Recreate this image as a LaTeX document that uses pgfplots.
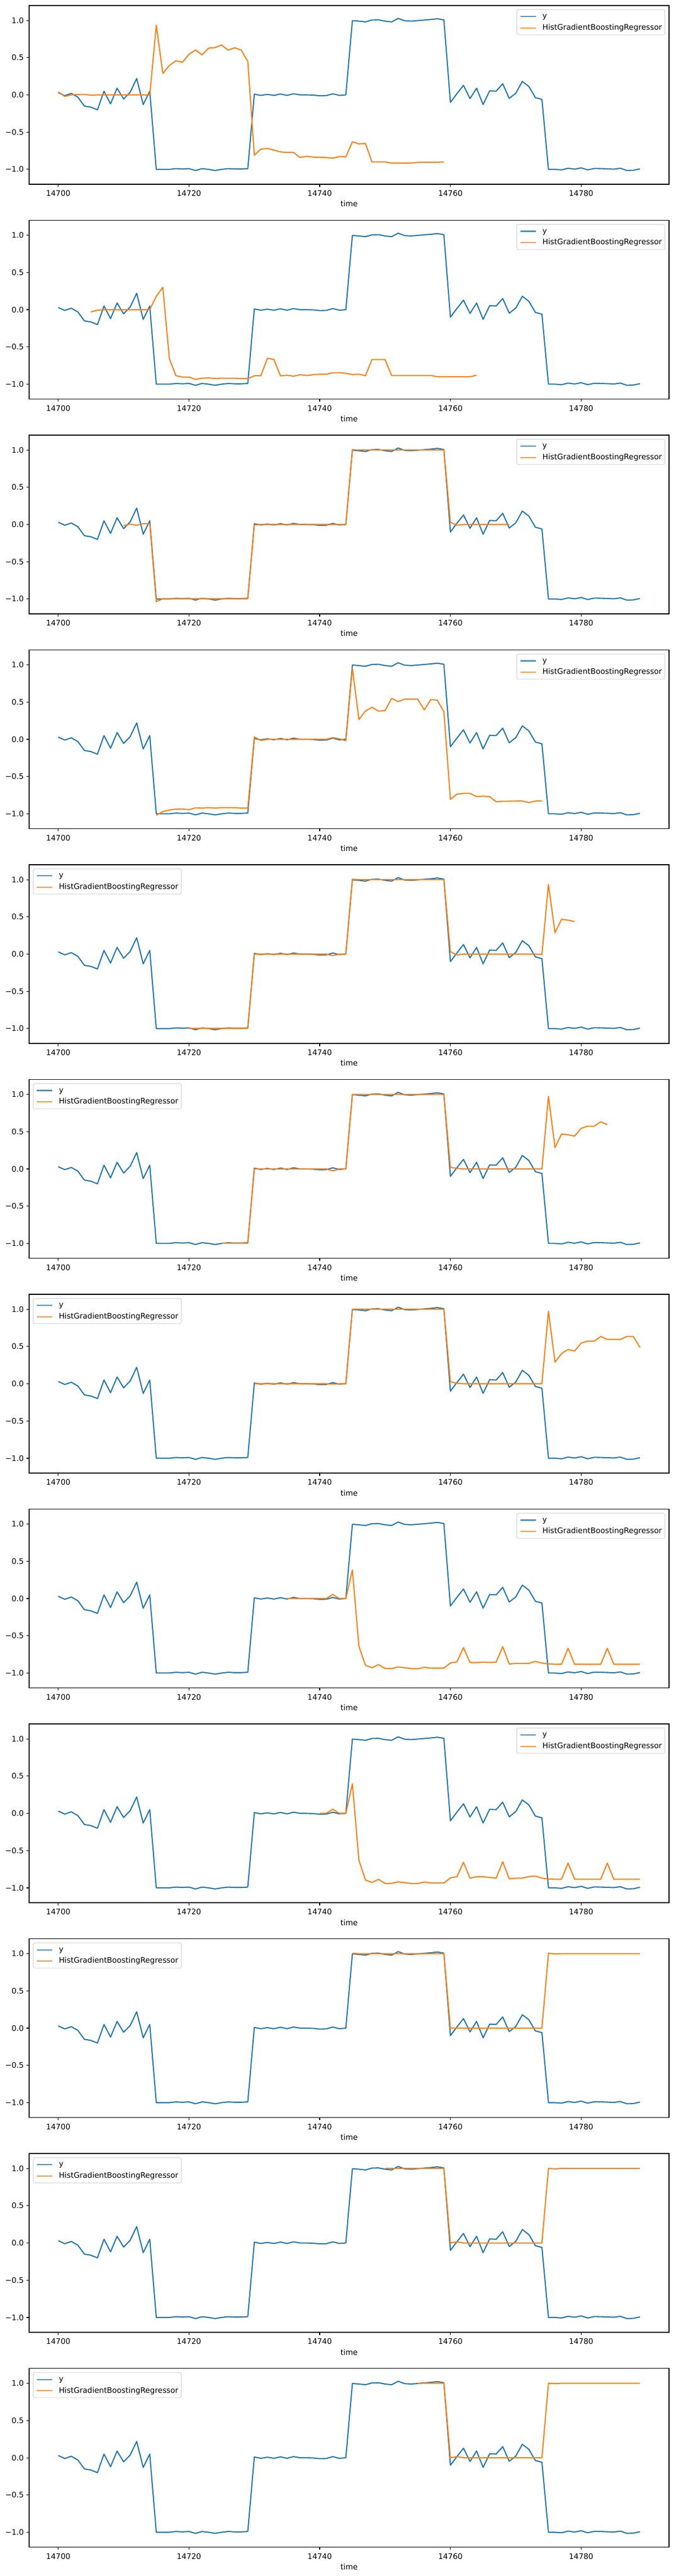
\documentclass[border=0pt]{standalone}
\usepackage{fontspec}
\setmainfont{DejaVu Sans}
\usepackage{pgfplots}
\usepackage{pgfplotstable}
\pgfplotsset{compat=1.18}
\definecolor{mblue}{HTML}{1F77B4}
\definecolor{morange}{HTML}{FF7F0E}

\pgfplotstableread[row sep=\\]{x y\\14700 0.03\\14701 -0.01\\14702 0.02\\14703 -0.03\\14704 -0.15\\14705 -0.165\\14706 -0.20\\14707 0.05\\14708 -0.12\\14709 0.09\\14710 -0.055\\14711 0.035\\14712 0.22\\14713 -0.13\\14714 0.05\\14715 -1.0\\14716 -1.0\\14717 -1.0\\14718 -0.99\\14719 -0.995\\14720 -0.99\\14721 -1.015\\14722 -0.99\\14723 -1.0\\14724 -1.015\\14725 -1.0\\14726 -0.99\\14727 -0.995\\14728 -0.995\\14729 -0.99\\14730 0.01\\14731 -0.007\\14732 0.007\\14733 -0.007\\14734 0.012\\14735 -0.007\\14736 0.015\\14737 0.0\\14738 0.0\\14739 -0.003\\14740 -0.012\\14741 -0.01\\14742 0.015\\14743 -0.007\\14744 0.0\\14745 0.997\\14746 0.99\\14747 0.98\\14748 1.005\\14749 1.007\\14750 0.99\\14751 0.98\\14752 1.027\\14753 0.995\\14754 0.99\\14755 0.997\\14756 1.005\\14757 1.012\\14758 1.022\\14759 1.007\\14760 -0.10\\14761 0.017\\14762 0.128\\14763 -0.05\\14764 0.09\\14765 -0.13\\14766 0.054\\14767 0.05\\14768 0.15\\14769 -0.047\\14770 0.022\\14771 0.18\\14772 0.113\\14773 -0.037\\14774 -0.06\\14775 -1.0\\14776 -1.0\\14777 -1.007\\14778 -0.985\\14779 -0.997\\14780 -0.98\\14781 -1.007\\14782 -0.988\\14783 -0.99\\14784 -0.993\\14785 -0.997\\14786 -0.985\\14787 -1.015\\14788 -1.012\\14789 -0.993\\}\ydata

\pgfplotstableread[row sep=\\]{x y\\14700 0.04\\14701 -0.02\\14702 0.0\\14703 0.005\\14704 0.007\\14705 -0.005\\14706 0.0\\14707 0.0\\14708 0.0\\14709 0.0\\14710 0.0\\14711 0.0\\14712 0.0\\14713 0.0\\14714 -0.005\\14715 0.936\\14716 0.288\\14717 0.394\\14718 0.458\\14719 0.438\\14720 0.544\\14721 0.603\\14722 0.537\\14723 0.628\\14724 0.635\\14725 0.67\\14726 0.60\\14727 0.633\\14728 0.60\\14729 0.45\\14730 -0.81\\14731 -0.727\\14732 -0.72\\14733 -0.74\\14734 -0.766\\14735 -0.773\\14736 -0.773\\14737 -0.84\\14738 -0.825\\14739 -0.835\\14740 -0.84\\14741 -0.84\\14742 -0.85\\14743 -0.828\\14744 -0.832\\14745 -0.63\\14746 -0.658\\14747 -0.653\\14748 -0.90\\14749 -0.90\\14750 -0.90\\14751 -0.916\\14752 -0.916\\14753 -0.916\\14754 -0.916\\14755 -0.906\\14756 -0.906\\14757 -0.906\\14758 -0.904\\14759 -0.90\\}\pa

\pgfplotstableread[row sep=\\]{x y\\14705 -0.03\\14706 -0.007\\14707 0.0\\14708 0.0\\14709 0.0\\14710 0.0\\14711 0.0\\14712 0.0\\14713 0.0\\14714 0.0\\14715 0.18\\14716 0.30\\14717 -0.657\\14718 -0.886\\14719 -0.905\\14720 -0.905\\14721 -0.935\\14722 -0.92\\14723 -0.915\\14724 -0.925\\14725 -0.92\\14726 -0.92\\14727 -0.92\\14728 -0.925\\14729 -0.925\\14730 -0.888\\14731 -0.886\\14732 -0.652\\14733 -0.669\\14734 -0.888\\14735 -0.88\\14736 -0.893\\14737 -0.873\\14738 -0.883\\14739 -0.873\\14740 -0.866\\14741 -0.866\\14742 -0.846\\14743 -0.846\\14744 -0.854\\14745 -0.871\\14746 -0.866\\14747 -0.886\\14748 -0.669\\14749 -0.669\\14750 -0.669\\14751 -0.883\\14752 -0.883\\14753 -0.883\\14754 -0.883\\14755 -0.883\\14756 -0.883\\14757 -0.883\\14758 -0.90\\14759 -0.90\\14760 -0.90\\14761 -0.90\\14762 -0.90\\14763 -0.90\\14764 -0.88\\}\pb

\pgfplotstableread[row sep=\\]{x y\\14710 -0.015\\14711 0.005\\14712 -0.01\\14713 0.012\\14714 0.012\\14715 -1.035\\14716 -0.997\\14717 -0.997\\14718 -0.997\\14719 -0.997\\14720 -0.997\\14721 -0.997\\14722 -0.997\\14723 -0.997\\14724 -0.997\\14725 -0.997\\14726 -0.997\\14727 -0.997\\14728 -0.997\\14729 -0.997\\14730 -0.005\\14731 0.0\\14732 0.0\\14733 0.0\\14734 0.0\\14735 0.0\\14736 0.0\\14737 0.0\\14738 0.0\\14739 0.0\\14740 0.0\\14741 0.0\\14742 0.0\\14743 0.0\\14744 0.0\\14745 1.005\\14746 1.0\\14747 1.0\\14748 1.0\\14749 1.0\\14750 1.0\\14751 1.0\\14752 1.0\\14753 1.0\\14754 1.0\\14755 1.0\\14756 1.0\\14757 1.0\\14758 1.0\\14759 1.0\\14760 0.03\\14761 -0.01\\14762 0.0\\14763 0.0\\14764 0.0\\14765 0.0\\14766 0.0\\14767 0.0\\14768 0.0\\14769 0.0\\}\pc

\pgfplotstableread[row sep=\\]{x y\\14715 -1.02\\14716 -0.97\\14717 -0.95\\14718 -0.937\\14719 -0.935\\14720 -0.945\\14721 -0.92\\14722 -0.922\\14723 -0.918\\14724 -0.922\\14725 -0.918\\14726 -0.918\\14727 -0.918\\14728 -0.922\\14729 -0.922\\14730 0.032\\14731 -0.015\\14732 0.0\\14733 0.0\\14734 0.0\\14735 0.0\\14736 0.0\\14737 0.0\\14738 0.0\\14739 0.0\\14740 0.0\\14741 0.0\\14742 0.022\\14743 0.007\\14744 -0.02\\14745 0.957\\14746 0.266\\14747 0.379\\14748 0.43\\14749 0.379\\14750 0.384\\14751 0.549\\14752 0.507\\14753 0.539\\14754 0.539\\14755 0.539\\14756 0.394\\14757 0.534\\14758 0.524\\14759 0.371\\14760 -0.807\\14761 -0.736\\14762 -0.726\\14763 -0.726\\14764 -0.77\\14765 -0.763\\14766 -0.77\\14767 -0.839\\14768 -0.831\\14769 -0.831\\14770 -0.829\\14771 -0.829\\14772 -0.849\\14773 -0.829\\14774 -0.829\\}\pd

\pgfplotstableread[row sep=\\]{x y\\14720 -0.997\\14721 -0.997\\14722 -0.997\\14723 -0.997\\14724 -0.997\\14725 -0.997\\14726 -0.997\\14727 -0.997\\14728 -0.997\\14729 -0.997\\14730 0.0\\14731 0.0\\14732 0.0\\14733 0.0\\14734 0.0\\14735 0.0\\14736 0.0\\14737 0.0\\14738 0.0\\14739 0.0\\14740 0.0\\14741 0.0\\14742 -0.02\\14743 0.0\\14744 0.0\\14745 1.005\\14746 1.0\\14747 1.0\\14748 1.0\\14749 1.0\\14750 1.0\\14751 1.0\\14752 1.0\\14753 1.0\\14754 1.0\\14755 1.0\\14756 1.0\\14757 1.0\\14758 1.0\\14759 1.0\\14760 0.032\\14761 -0.01\\14762 0.0\\14763 0.0\\14764 0.0\\14765 0.0\\14766 0.0\\14767 0.0\\14768 0.0\\14769 0.0\\14770 0.0\\14771 0.0\\14772 0.0\\14773 0.0\\14774 -0.007\\14775 0.936\\14776 0.286\\14777 0.468\\14778 0.456\\14779 0.438\\}\pe

\pgfplotstableread[row sep=\\]{x y\\14725 -0.997\\14726 -0.997\\14727 -0.997\\14728 -0.997\\14729 -0.997\\14730 0.0\\14731 0.0\\14732 0.0\\14733 0.0\\14734 0.0\\14735 0.0\\14736 0.0\\14737 0.0\\14738 0.0\\14739 0.0\\14740 0.0\\14741 0.0\\14742 -0.027\\14743 0.0\\14744 0.0\\14745 1.0\\14746 1.0\\14747 1.0\\14748 1.0\\14749 1.0\\14750 1.0\\14751 1.0\\14752 1.0\\14753 1.0\\14754 1.0\\14755 1.0\\14756 1.0\\14757 1.0\\14758 1.0\\14759 1.0\\14760 0.022\\14761 0.007\\14762 0.0\\14763 0.0\\14764 0.0\\14765 0.0\\14766 0.0\\14767 0.0\\14768 0.0\\14769 0.0\\14770 0.0\\14771 0.0\\14772 0.0\\14773 0.0\\14774 0.0\\14775 0.973\\14776 0.286\\14777 0.468\\14778 0.458\\14779 0.441\\14780 0.544\\14781 0.574\\14782 0.574\\14783 0.633\\14784 0.594\\}\pf

\pgfplotstableread[row sep=\\]{x y\\14730 0.0\\14731 0.0\\14732 0.0\\14733 0.0\\14734 0.0\\14735 0.0\\14736 0.0\\14737 0.0\\14738 0.0\\14739 0.0\\14740 0.0\\14741 0.0\\14742 -0.005\\14743 0.0\\14744 0.0\\14745 1.0\\14746 1.0\\14747 1.0\\14748 1.0\\14749 1.0\\14750 1.0\\14751 1.0\\14752 1.0\\14753 1.0\\14754 1.0\\14755 1.0\\14756 1.0\\14757 1.0\\14758 1.0\\14759 1.0\\14760 0.025\\14761 0.007\\14762 0.0\\14763 0.0\\14764 0.0\\14765 0.0\\14766 0.0\\14767 0.0\\14768 0.0\\14769 0.0\\14770 0.0\\14771 0.0\\14772 0.0\\14773 0.0\\14774 0.0\\14775 0.973\\14776 0.288\\14777 0.405\\14778 0.46\\14779 0.44\\14780 0.545\\14781 0.572\\14782 0.572\\14783 0.634\\14784 0.595\\14785 0.595\\14786 0.595\\14787 0.634\\14788 0.634\\14789 0.485\\}\pg

\pgfplotstableread[row sep=\\]{x y\\14735 0.0\\14736 0.0\\14737 0.0\\14738 0.0\\14739 0.0\\14740 0.0\\14741 0.0\\14742 0.055\\14743 0.0\\14744 0.0\\14745 0.383\\14746 -0.641\\14747 -0.897\\14748 -0.929\\14749 -0.887\\14750 -0.939\\14751 -0.939\\14752 -0.919\\14753 -0.929\\14754 -0.941\\14755 -0.941\\14756 -0.924\\14757 -0.934\\14758 -0.934\\14759 -0.934\\14760 -0.865\\14761 -0.85\\14762 -0.658\\14763 -0.86\\14764 -0.86\\14765 -0.853\\14766 -0.86\\14767 -0.853\\14768 -0.646\\14769 -0.88\\14770 -0.87\\14771 -0.87\\14772 -0.87\\14773 -0.843\\14774 -0.867\\14775 -0.877\\14776 -0.882\\14777 -0.882\\14778 -0.668\\14779 -0.882\\14780 -0.882\\14781 -0.882\\14782 -0.882\\14783 -0.882\\14784 -0.668\\14785 -0.882\\14786 -0.882\\14787 -0.882\\14788 -0.882\\14789 -0.882\\}\ph

\pgfplotstableread[row sep=\\]{x y\\14740 0.0\\14741 0.0\\14742 0.055\\14743 0.0\\14744 0.0\\14745 0.398\\14746 -0.628\\14747 -0.895\\14748 -0.927\\14749 -0.886\\14750 -0.94\\14751 -0.94\\14752 -0.92\\14753 -0.93\\14754 -0.942\\14755 -0.942\\14756 -0.922\\14757 -0.935\\14758 -0.935\\14759 -0.935\\14760 -0.867\\14761 -0.851\\14762 -0.657\\14763 -0.87\\14764 -0.851\\14765 -0.851\\14766 -0.86\\14767 -0.87\\14768 -0.649\\14769 -0.88\\14770 -0.87\\14771 -0.87\\14772 -0.849\\14773 -0.842\\14774 -0.87\\14775 -0.88\\14776 -0.885\\14777 -0.885\\14778 -0.668\\14779 -0.885\\14780 -0.885\\14781 -0.885\\14782 -0.885\\14783 -0.885\\14784 -0.668\\14785 -0.885\\14786 -0.885\\14787 -0.885\\14788 -0.885\\14789 -0.885\\}\pi

\pgfplotstableread[row sep=\\]{x y\\14745 1.005\\14746 1.0\\14747 1.0\\14748 1.0\\14749 1.0\\14750 1.0\\14751 1.0\\14752 1.0\\14753 1.0\\14754 1.0\\14755 1.0\\14756 1.0\\14757 1.0\\14758 1.0\\14759 1.0\\14760 0.0\\14761 0.0\\14762 0.0\\14763 0.0\\14764 0.0\\14765 0.0\\14766 0.0\\14767 0.0\\14768 0.0\\14769 0.0\\14770 0.0\\14771 0.0\\14772 0.0\\14773 0.0\\14774 0.0\\14775 1.005\\14776 0.997\\14777 1.0\\14778 1.0\\14779 1.0\\14780 1.0\\14781 1.0\\14782 1.0\\14783 1.0\\14784 1.0\\14785 1.0\\14786 1.0\\14787 1.0\\14788 1.0\\14789 1.0\\}\pj

\pgfplotstableread[row sep=\\]{x y\\14750 1.0\\14751 1.0\\14752 1.0\\14753 1.0\\14754 1.0\\14755 1.0\\14756 1.0\\14757 1.0\\14758 1.0\\14759 1.0\\14760 0.0\\14761 0.015\\14762 0.0\\14763 0.0\\14764 0.0\\14765 0.0\\14766 0.0\\14767 0.0\\14768 0.0\\14769 0.0\\14770 0.0\\14771 0.0\\14772 0.0\\14773 0.0\\14774 0.0\\14775 1.0\\14776 0.995\\14777 1.0\\14778 1.0\\14779 1.0\\14780 1.0\\14781 1.0\\14782 1.0\\14783 1.0\\14784 1.0\\14785 1.0\\14786 1.0\\14787 1.0\\14788 1.0\\14789 1.0\\}\pk

\pgfplotstableread[row sep=\\]{x y\\14755 1.0\\14756 1.0\\14757 1.0\\14758 1.0\\14759 1.0\\14760 0.0\\14761 0.015\\14762 0.0\\14763 0.0\\14764 0.0\\14765 0.0\\14766 0.0\\14767 0.0\\14768 0.0\\14769 0.0\\14770 0.0\\14771 0.0\\14772 0.0\\14773 0.0\\14774 0.0\\14775 1.0\\14776 0.995\\14777 1.0\\14778 1.0\\14779 1.0\\14780 1.0\\14781 1.0\\14782 1.0\\14783 1.0\\14784 1.0\\14785 1.0\\14786 1.0\\14787 1.0\\14788 1.0\\14789 1.0\\}\pl

\pgfplotsset{
  sub/.style={
    scale only axis, width=837.36pt, height=234pt,
    anchor=north west,
    xmin=14695.55, xmax=14793.45, ymin=-1.2, ymax=1.2,
    scaled x ticks=false, scaled y ticks=false,
    xtick={14700,14720,14740,14760,14780},
    xticklabels={14700,14720,14740,14760,14780},
    ytick={-1,-0.5,0,0.5,1},
    yticklabels={−1.0,−0.5,0.0,0.5,1.0},
    tick align=outside, major tick length=3.5pt,
    xtick pos=bottom, ytick pos=left,
    axis line style={line width=0.8pt},
    every tick/.style={black, line width=0.8pt},
    tick label style={font=\fontsize{10}{12}\selectfont},
    xticklabel style={anchor=base, yshift=-12pt},
    xlabel={time},
    xlabel style={at={(axis description cs:0.5,0)}, anchor=base, yshift=-29.5pt, font=\fontsize{10}{12}\selectfont},
    legend cell align=left,
    legend style={draw=black!20, line width=0.8pt, rounded corners=2pt, fill=white, fill opacity=0.8, draw opacity=0.8, text opacity=1,
      font=\fontsize{10}{12}\selectfont, inner xsep=4pt, inner ysep=4pt, row sep=5pt,
      nodes={inner sep=0pt, text height=7.6pt, text depth=2.4pt}},
    /tikz/every odd column/.append style={column sep=8pt},
    legend image code/.code={\draw[##1] (0pt,0pt) -- (20pt,0pt);},
  },
  legR/.style={legend style={at={(1,1)}, anchor=north east, xshift=-5pt, yshift=-5pt}},
  legL/.style={legend style={at={(0,1)}, anchor=north west, xshift=5pt, yshift=-5pt}},
  bl/.style={mblue, line width=1.5pt, line join=round},
  ol/.style={morange, line width=1.5pt, line join=round},
}

\begin{document}
\begin{tikzpicture}
\useasboundingbox (-38.16pt,7.2pt) rectangle (843.84pt,-3364.56pt);

\begin{axis}[sub, legR, at={(0pt,0pt)}]
\addplot[bl] table {\ydata}; \addlegendentry{y}
\addplot[ol] table {\pa}; \addlegendentry{HistGradientBoostingRegressor}
\end{axis}

\begin{axis}[sub, legR, at={(0pt,-281.16pt)}]
\addplot[bl] table {\ydata}; \addlegendentry{y}
\addplot[ol] table {\pb}; \addlegendentry{HistGradientBoostingRegressor}
\end{axis}

\begin{axis}[sub, legR, at={(0pt,-562.32pt)}]
\addplot[bl] table {\ydata}; \addlegendentry{y}
\addplot[ol] table {\pc}; \addlegendentry{HistGradientBoostingRegressor}
\end{axis}

\begin{axis}[sub, legR, at={(0pt,-843.48pt)}]
\addplot[bl] table {\ydata}; \addlegendentry{y}
\addplot[ol] table {\pd}; \addlegendentry{HistGradientBoostingRegressor}
\end{axis}

\begin{axis}[sub, legL, at={(0pt,-1124.64pt)}]
\addplot[bl] table {\ydata}; \addlegendentry{y}
\addplot[ol] table {\pe}; \addlegendentry{HistGradientBoostingRegressor}
\end{axis}

\begin{axis}[sub, legL, at={(0pt,-1405.8pt)}]
\addplot[bl] table {\ydata}; \addlegendentry{y}
\addplot[ol] table {\pf}; \addlegendentry{HistGradientBoostingRegressor}
\end{axis}

\begin{axis}[sub, legL, at={(0pt,-1686.96pt)}]
\addplot[bl] table {\ydata}; \addlegendentry{y}
\addplot[ol] table {\pg}; \addlegendentry{HistGradientBoostingRegressor}
\end{axis}

\begin{axis}[sub, legR, at={(0pt,-1968.12pt)}]
\addplot[bl] table {\ydata}; \addlegendentry{y}
\addplot[ol] table {\ph}; \addlegendentry{HistGradientBoostingRegressor}
\end{axis}

\begin{axis}[sub, legR, at={(0pt,-2249.28pt)}]
\addplot[bl] table {\ydata}; \addlegendentry{y}
\addplot[ol] table {\pi}; \addlegendentry{HistGradientBoostingRegressor}
\end{axis}

\begin{axis}[sub, legL, at={(0pt,-2530.44pt)}]
\addplot[bl] table {\ydata}; \addlegendentry{y}
\addplot[ol] table {\pj}; \addlegendentry{HistGradientBoostingRegressor}
\end{axis}

\begin{axis}[sub, legL, at={(0pt,-2811.6pt)}]
\addplot[bl] table {\ydata}; \addlegendentry{y}
\addplot[ol] table {\pk}; \addlegendentry{HistGradientBoostingRegressor}
\end{axis}

\begin{axis}[sub, legL, at={(0pt,-3092.76pt)}]
\addplot[bl] table {\ydata}; \addlegendentry{y}
\addplot[ol] table {\pl}; \addlegendentry{HistGradientBoostingRegressor}
\end{axis}

\end{tikzpicture}
\end{document}
